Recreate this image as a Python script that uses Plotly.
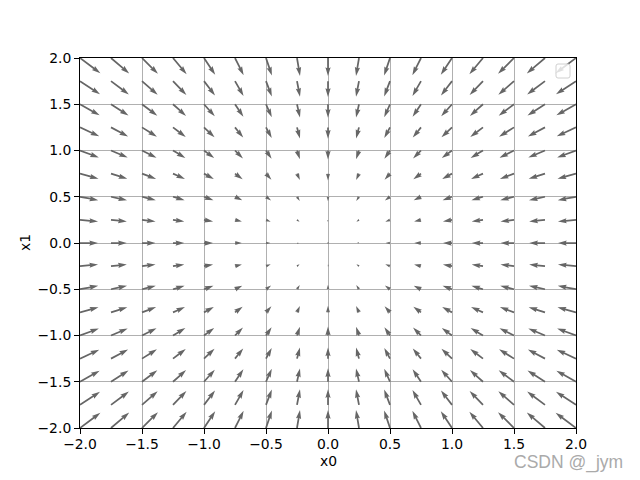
import math
import plotly.graph_objects as go

# ---- data ----
x0_vals = [-2.0, -1.75, -1.5, -1.25, -1.0, -0.75, -0.5, -0.25, 0.0,
           0.25, 0.5, 0.75, 1.0, 1.25, 1.5, 1.75, 2.0]
x1_vals = [-2.0, -1.75, -1.5, -1.25, -1.0, -0.75, -0.5, -0.25, 0.0,
           0.25, 0.5, 0.75, 1.0, 1.25, 1.5, 1.75, 2.0]
# arrow component along x0 for each column, along x1 for each row
arrow_u_by_col = [4.0, 3.5, 3.0, 2.5, 2.0, 1.5, 1.0, 0.5, 0.0,
                  -0.5, -1.0, -1.5, -2.0, -2.5, -3.0, -3.5, -4.0]
arrow_v_by_row = [4.0, 3.5, 3.0, 2.5, 2.0, 1.5, 1.0, 0.5, 0.0,
                  -0.5, -1.0, -1.5, -2.0, -2.5, -3.0, -3.5, -4.0]
tick_vals = [-2.0, -1.5, -1.0, -0.5, 0.0, 0.5, 1.0, 1.5, 2.0]
tick_text = ["\u22122.0", "\u22121.5", "\u22121.0", "\u22120.5", "0.0",
             "0.5", "1.0", "1.5", "2.0"]

# ---- layout constants ----
W, H = 640, 480
OFF = 8  # page body margin of the html page
# target plot area on screen
PX0, PX1, PY0, PY1 = 80, 576, 58, 428
ML, MT = PX0 - OFF, PY0 - OFF
MR = W - ML - (PX1 - PX0)
MB = H - MT - (PY1 - PY0)
XR = [-2.0, 2.0]
YR = [-2.0, 2.0]
plot_w = PX1 - PX0
plot_h = PY1 - PY0
px_x = plot_w / (XR[1] - XR[0])
px_y = plot_h / (YR[1] - YR[0])

# quiver-like arrow style (pixels)
shaft = 1.75
head_w = 3.0
head_l = 5.0
head_al = 4.5
minshaft = 1.0
minlength = 1.0
k_px = 4.5  # pixels per vector unit

xs, ys = [], []
for j, yv in enumerate(x1_vals):
    for i, xv in enumerate(x0_vals):
        u = arrow_u_by_col[i]
        v = arrow_v_by_row[j]
        mag = math.hypot(u, v)
        L = k_px * mag / shaft
        minsh = minshaft * head_l
        if L < minlength:
            pts = [(math.cos(t * math.pi / 3) * minlength * 0.5,
                    math.sin(t * math.pi / 3) * minlength * 0.5) for t in range(7)]
        else:
            if L >= minsh:
                ax_ = [0, L - head_al, L - head_l, L]
                sy = 1.0
            else:
                s = L / minsh
                ax_ = [0 * s, (minsh - head_al) * s, (minsh - head_l) * s, minsh * s]
                sy = s
            ay = [0.5 * sy, 0.5 * sy, 0.5 * head_w * sy, 0.0]
            idx = [0, 1, 2, 3, 2, 1, 0, 0]
            pts = []
            for n, ii in enumerate(idx):
                yy = ay[ii]
                if 3 <= n < 7:
                    yy = -yy
                pts.append((ax_[ii], yy))
        th = math.atan2(v * px_y, u * px_x) if mag > 0 else 0.0
        c, s_ = math.cos(th), math.sin(th)
        for (px, py) in pts:
            rx = (px * c - py * s_) * shaft
            ry = (px * s_ + py * c) * shaft
            xs.append(xv + rx / px_x)
            ys.append(yv + ry / px_y)
        xs.append(None)
        ys.append(None)

fig = go.Figure()
fig.add_trace(go.Scatter(
    x=xs, y=ys, mode="lines", fill="toself",
    fillcolor="#666666", line=dict(width=0, color="#666666"),
    hoverinfo="skip", showlegend=False))

axis_common = dict(
    showgrid=True, gridcolor="#b0b0b0", gridwidth=0.8,
    zeroline=False, showline=True, linecolor="black", linewidth=1,
    mirror=True, ticks="outside", ticklen=5, tickwidth=1, tickcolor="black",
    tickvals=tick_vals, ticktext=tick_text,
    tickfont=dict(family="DejaVu Sans", size=13.9, color="black"),
    fixedrange=True,
)
fig.update_xaxes(range=XR, ticklabelstandoff=-2, **axis_common)
fig.update_yaxes(range=YR, **axis_common)

def px2paper_x(p):
    return (p - PX0) / plot_w

def px2paper_y(p):
    return (PY1 - p) / plot_h

# empty legend box (top right)
bx0, bx1 = px2paper_x(556), px2paper_x(570)
by0, by1 = px2paper_y(78), px2paper_y(64)
rx, ry = 2 / plot_w, 2 / plot_h
path = (f"M {bx0+rx},{by0} L {bx1-rx},{by0} Q {bx1},{by0} {bx1},{by0+ry} "
        f"L {bx1},{by1-ry} Q {bx1},{by1} {bx1-rx},{by1} L {bx0+rx},{by1} "
        f"Q {bx0},{by1} {bx0},{by1-ry} L {bx0},{by0+ry} Q {bx0},{by0} {bx0+rx},{by0} Z")
fig.add_shape(type="path", xref="paper", yref="paper", path=path,
              line=dict(color="#d0d0d0", width=1), fillcolor="rgba(255,255,255,0.8)")

fig.add_annotation(text="x0", xref="paper", yref="paper",
                   x=px2paper_x(328), y=px2paper_y(461), showarrow=False,
                   xanchor="center", yanchor="middle",
                   font=dict(family="DejaVu Sans", size=13.9, color="black"))
fig.add_annotation(text="x1", xref="paper", yref="paper",
                   x=px2paper_x(25), y=px2paper_y(243), showarrow=False,
                   textangle=-90, xanchor="center", yanchor="middle",
                   font=dict(family="DejaVu Sans", size=13.9, color="black"))
fig.add_annotation(text="CSDN @_jym", xref="paper", yref="paper",
                   x=px2paper_x(625), y=px2paper_y(462), showarrow=False,
                   xanchor="right", yanchor="middle",
                   font=dict(family="Liberation Sans", size=17.5, color="#aaaaaa"))

fig.update_layout(
    width=W, height=H, autosize=False,
    margin=dict(l=ML, r=MR, t=MT, b=MB, pad=0),
    paper_bgcolor="white", plot_bgcolor="white",
    showlegend=False, hovermode=False,
)
fig.write_html("out.html")
